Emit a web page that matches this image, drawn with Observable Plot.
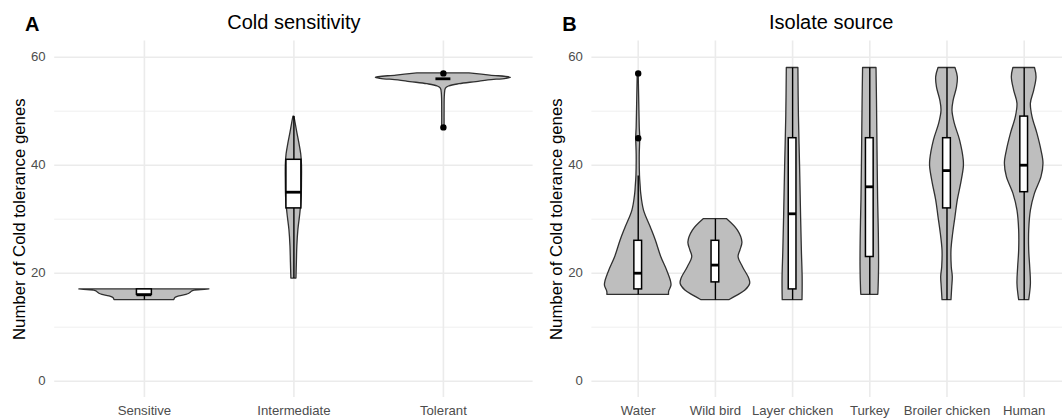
<!DOCTYPE html>
<html><head><meta charset="utf-8">
<script src="https://cdn.jsdelivr.net/npm/d3@7"></script>
<script src="https://cdn.jsdelivr.net/npm/@observablehq/plot@0.6"></script>
<style>
html,body{margin:0;padding:0;background:#fff;overflow:hidden;width:1062px;height:420px;}
#wrap{position:relative;width:1062px;height:420px;overflow:hidden;}
#wrap svg{position:absolute;top:0;}
</style></head><body><div id="wrap"></div>
<script>
// ---------- data ----------
const yTicks = [0, 20, 40, 60];
const yMinorTicks = [10, 30, 50];
const yLabel = "Number of Cold tolerance genes";

// Panel A: Cold sensitivity
const coldTitle = "Cold sensitivity";
const coldCategories = ["Sensitive", "Intermediate", "Tolerant"];
// violin profiles: gene counts and half-widths (in category units)
const sensitiveGenes = [15, 15.4, 15.7, 16, 16.2, 16.4, 16.65, 16.85, 17];
const sensitiveWidth = [0.2, 0.207, 0.234, 0.281, 0.301, 0.311, 0.321, 0.381, 0.435];
const intermediateGenes = [19, 22, 25, 28, 31, 34, 37, 40, 42, 44, 46, 48, 49];
const intermediateWidth = [0.017, 0.02, 0.023, 0.03, 0.043, 0.052, 0.054, 0.054, 0.049, 0.037, 0.023, 0.01, 0.003];
const tolerantGenes = [47, 50, 53, 54.2, 54.6, 55, 55.4, 55.7, 56, 56.2, 56.6, 57];
const tolerantWidth = [0.008, 0.008, 0.01, 0.017, 0.04, 0.107, 0.221, 0.301, 0.421, 0.452, 0.314, 0.174];
// box statistics
const coldQ1 = [16, 32, 56];
const coldMedian = [16, 35, 56];
const coldQ3 = [17, 41, 56];
const coldLower = [15, 19, 56];
const coldUpper = [17, 49, 56];
const coldOutlierCategory = ["Tolerant", "Tolerant"];
const coldOutlierGenes = [57, 47];

// Panel B: Isolate source
const sourceTitle = "Isolate source";
const sourceCategories = ["Water", "Wild bird", "Layer chicken", "Turkey", "Broiler chicken", "Human"];
const waterGenes = [16, 16.5, 17.7, 18.6, 20.5, 23, 26.1, 28.5, 31.6, 34.7, 36, 38, 42, 45, 47, 52, 57];
const waterWidth = [0.4, 0.4, 0.431, 0.422, 0.374, 0.298, 0.227, 0.162, 0.075, 0.039, 0.032, 0.023, 0.02, 0.026, 0.02, 0.013, 0.006];
const wildBirdGenes = [15, 15.8, 16.8, 18, 19, 21.1, 23, 24.2, 25.7, 27.9, 30];
const wildBirdWidth = [0.18, 0.28, 0.389, 0.45, 0.438, 0.357, 0.3, 0.324, 0.35, 0.292, 0.152];
const layerGenes = [15, 16.8, 19.3, 24.2, 30.4, 39.6, 49, 58];
const layerWidth = [0.128, 0.13, 0.13, 0.12, 0.11, 0.097, 0.082, 0.075];
const turkeyGenes = [16, 16.8, 21.1, 27.3, 33.5, 42.7, 52, 58];
const turkeyWidth = [0.11, 0.113, 0.12, 0.117, 0.108, 0.1, 0.093, 0.087];
const broilerGenes = [15, 17.4, 19.3, 21.1, 24.2, 27.3, 30.4, 33.5, 36.6, 39.6, 40.9, 44.6, 47.7, 50.1, 52, 54.4, 56.3, 58];
const broilerWidth = [0.058, 0.068, 0.075, 0.062, 0.058, 0.08, 0.11, 0.14, 0.184, 0.218, 0.217, 0.169, 0.101, 0.071, 0.087, 0.13, 0.14, 0.11];
const humanGenes = [15, 18, 21.1, 24.2, 27.9, 31.6, 34.7, 37.8, 40.3, 42.7, 45.8, 48.9, 51.4, 53.8, 56.3, 58];
const humanWidth = [0.065, 0.087, 0.078, 0.065, 0.065, 0.087, 0.139, 0.224, 0.25, 0.224, 0.172, 0.108, 0.087, 0.13, 0.16, 0.14];
const sourceQ1 = [17, 18.3, 17, 23, 32, 35];
const sourceMedian = [20, 21.5, 31, 36, 39, 40];
const sourceQ3 = [26, 26, 45, 45, 45, 49];
const sourceLower = [16, 15, 15, 16, 15, 15];
const sourceUpper = [38, 30, 58, 58, 58, 58];
const sourceOutlierCategory = ["Water", "Water"];
const sourceOutlierGenes = [57, 45];

// ---------- drawing ----------
const FONT = "'Liberation Sans', Arial, Helvetica, sans-serif";
const BOX_HALF = 0.05;

function panel(o) {
  const cats = o.categories;
  const pos = new Map(cats.map((c, i) => [c, i + 1]));
  const violin = [];
  o.profiles.forEach((p, i) => p[0].forEach((g, j) =>
    violin.push({cat: cats[i], pos: i + 1, genes: g, half: p[1][j]})));
  const boxes = cats.map((c, i) => ({cat: c, pos: i + 1, q1: o.q1[i], median: o.median[i], q3: o.q3[i], lower: o.lower[i], upper: o.upper[i]}));
  const outliers = o.outCat.map((c, i) => ({pos: pos.get(c), genes: o.outVal[i]}));
  const ticks = cats.map((c, i) => i + 1);
  return Plot.plot({
    width: o.width, height: 420,
    marginLeft: o.marginLeft, marginRight: o.marginRight, marginTop: 40.5, marginBottom: 23.1,
    style: {background: "transparent", fontFamily: FONT, maxWidth: "none", overflow: "visible", left: o.left + "px"},
    x: {domain: [0.4, cats.length + 0.6]},
    y: {domain: [-3, 63]},
    marks: [
      Plot.ruleY(yMinorTicks, {stroke: "#EBEBEB", strokeWidth: 0.8}),
      Plot.ruleY(yTicks, {stroke: "#EBEBEB", strokeWidth: 1.6}),
      Plot.ruleX(ticks, {stroke: "#EBEBEB", strokeWidth: 1.6}),
      Plot.areaX(violin, {x1: d => d.pos - d.half, x2: d => d.pos + d.half, y: "genes", z: "cat",
        fill: "#BEBEBE", stroke: "#303030", strokeWidth: 1.3, curve: "catmull-rom"}),
      Plot.ruleX(boxes, {x: "pos", y1: "lower", y2: "q1", stroke: "black", strokeWidth: 1.4}),
      Plot.ruleX(boxes, {x: "pos", y1: "q3", y2: "upper", stroke: "black", strokeWidth: 1.4}),
      Plot.rect(boxes, {x1: d => d.pos - BOX_HALF, x2: d => d.pos + BOX_HALF, y1: "q1", y2: "q3",
        fill: "white", stroke: "black", strokeWidth: 1.5}),
      Plot.ruleY(boxes, {y: "median", x1: d => d.pos - BOX_HALF, x2: d => d.pos + BOX_HALF, stroke: "black", strokeWidth: 2.8}),
      Plot.dot(outliers, {x: "pos", y: "genes", r: 3.2, fill: "black", stroke: null}),
      Plot.axisY({ticks: yTicks, tickSize: 0, tickPadding: 9, fontSize: 13.2, color: "#4D4D4D", fill: "#4D4D4D", label: null}),
      Plot.axisX({ticks, tickFormat: i => cats[i - 1], tickSize: 0, tickPadding: 8, fontSize: 13.2, color: "#4D4D4D", fill: "#4D4D4D", label: null}),
      Plot.text([yLabel], {text: d => d, frameAnchor: "left", rotate: -90, dx: -35, fontSize: 16.8, fill: "black", textAnchor: "middle", lineAnchor: "middle"}),
      Plot.text([o.title], {text: d => d, frameAnchor: "top", dy: -18.5, fontSize: 20, fill: "black", textAnchor: "middle", lineAnchor: "middle"}),
      Plot.text([o.tag], {text: d => d, frameAnchor: "top-left", dx: -22.4, dy: -16.2, fontSize: 20, fontWeight: "bold", fill: "black", textAnchor: "middle", lineAnchor: "middle"})
    ]
  });
}

const wrap = document.getElementById("wrap");
wrap.appendChild(panel({
  categories: coldCategories,
  profiles: [[sensitiveGenes, sensitiveWidth], [intermediateGenes, intermediateWidth], [tolerantGenes, tolerantWidth]],
  q1: coldQ1, median: coldMedian, q3: coldQ3, lower: coldLower, upper: coldUpper,
  outCat: coldOutlierCategory, outVal: coldOutlierGenes,
  title: coldTitle, tag: "A", width: 533, marginLeft: 54.2, marginRight: 0.4, left: 0
}));
wrap.appendChild(panel({
  categories: sourceCategories,
  profiles: [[waterGenes, waterWidth], [wildBirdGenes, wildBirdWidth], [layerGenes, layerWidth], [turkeyGenes, turkeyWidth], [broilerGenes, broilerWidth], [humanGenes, humanWidth]],
  q1: sourceQ1, median: sourceMedian, q3: sourceQ3, lower: sourceLower, upper: sourceUpper,
  outCat: sourceOutlierCategory, outVal: sourceOutlierGenes,
  title: sourceTitle, tag: "B", width: 539, marginLeft: 60.4, marginRight: 0, left: 531
}));
</script></body></html>
